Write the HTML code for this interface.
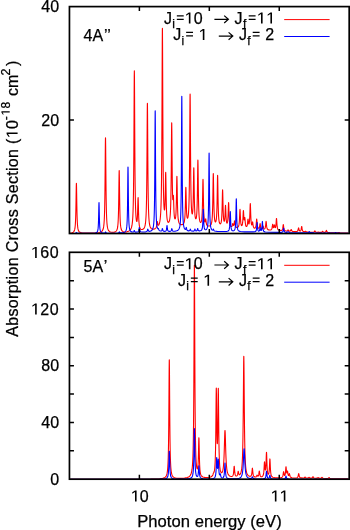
<!DOCTYPE html><html><head><meta charset="utf-8"><style>
html,body{margin:0;padding:0;background:#fff;}
svg{display:block;will-change:transform;}
text{font-family:"Liberation Sans",sans-serif;font-size:16px;fill:#000;stroke:#000;stroke-width:0.25px;font-kerning:none;}
.o{fill:none;stroke:none;}
use{fill:#000;stroke:#000;stroke-width:0.25px;vector-effect:non-scaling-stroke;}
</style></head><body>
<svg width="350" height="530" viewBox="0 0 350 530" xmlns="http://www.w3.org/2000/svg">
<defs><path id="one" d="M540,0L540,1225L190,1000L190,1175L545,1409L745,1409L745,0Z"></path><path id="eq" d="M225,907H1105V1062H225ZM225,460H1105V615H225Z"></path></defs>
<rect width="350" height="530" fill="#fff"></rect>
<g fill="none" stroke-width="1.1" stroke-linejoin="round">
<path d="M70.35,233.09 L72.25,232.70 L73.25,232.18 L73.85,231.55 L74.25,230.83 L74.55,229.99 L74.75,229.18 L74.95,228.07 L75.05,227.35 L75.15,226.48 L75.25,225.43 L75.35,224.13 L75.45,222.53 L75.55,220.51 L75.65,217.98 L75.75,214.77 L75.85,210.72 L75.95,205.72 L76.05,199.77 L76.15,193.32 L76.25,187.44 L76.35,183.80 L76.40,183.30 L76.45,183.80 L76.55,187.43 L76.65,193.31 L76.75,199.77 L76.85,205.71 L76.95,210.71 L77.05,214.76 L77.15,217.96 L77.25,220.50 L77.35,222.51 L77.45,224.11 L77.55,225.41 L77.65,226.46 L77.75,227.33 L77.95,228.65 L78.15,229.58 L78.45,230.55 L78.85,231.36 L79.45,232.04 L80.45,232.59 L82.35,232.97 L87.45,233.15 L95.95,232.95 L99.25,232.58 L100.85,232.08 L101.85,231.40 L102.45,230.65 L102.85,229.87 L103.15,229.01 L103.45,227.78 L103.65,226.64 L103.85,225.11 L103.95,224.15 L104.05,223.00 L104.15,221.63 L104.25,219.98 L104.35,217.98 L104.45,215.51 L104.55,212.46 L104.65,208.64 L104.75,203.81 L104.85,197.72 L104.95,190.03 L105.05,180.51 L105.15,169.21 L105.25,156.94 L105.35,145.76 L105.45,138.84 L105.50,137.90 L105.55,138.84 L105.65,145.76 L105.75,156.93 L105.85,169.20 L105.95,180.49 L106.05,190.00 L106.15,197.69 L106.25,203.78 L106.35,208.60 L106.45,212.42 L106.55,215.47 L106.65,217.93 L106.75,219.93 L106.85,221.57 L106.95,222.94 L107.05,224.08 L107.15,225.04 L107.35,226.56 L107.55,227.69 L107.85,228.90 L108.15,229.74 L108.65,230.66 L109.35,231.39 L110.45,231.95 L112.15,232.24 L114.15,232.13 L115.45,231.69 L116.25,231.06 L116.75,230.31 L117.05,229.61 L117.35,228.57 L117.55,227.57 L117.75,226.19 L117.85,225.29 L117.95,224.21 L118.05,222.90 L118.15,221.29 L118.25,219.29 L118.35,216.79 L118.45,213.63 L118.55,209.64 L118.65,204.61 L118.75,198.38 L118.85,190.99 L118.95,182.96 L119.05,175.65 L119.15,171.12 L119.20,170.50 L119.25,171.12 L119.35,175.64 L119.45,182.95 L119.55,190.98 L119.65,198.37 L119.75,204.59 L119.85,209.62 L119.95,213.61 L120.05,216.76 L120.15,219.26 L120.25,221.25 L120.35,222.86 L120.45,224.17 L120.55,225.24 L120.65,226.13 L120.85,227.51 L121.05,228.50 L121.35,229.53 L121.75,230.41 L122.35,231.15 L123.25,231.69 L124.75,232.00 L126.75,231.84 L128.55,231.28 L129.65,230.60 L130.45,229.73 L130.95,228.88 L131.35,227.90 L131.65,226.87 L131.95,225.48 L132.15,224.24 L132.35,222.65 L132.45,221.68 L132.55,220.56 L132.65,219.26 L132.75,217.73 L132.85,215.94 L132.95,213.81 L133.05,211.26 L133.15,208.18 L133.25,204.41 L133.35,199.76 L133.45,193.97 L133.55,186.70 L133.65,177.52 L133.75,165.91 L133.85,151.38 L133.95,133.70 L134.05,113.48 L134.15,93.06 L134.25,77.02 L134.35,70.80 L134.45,76.95 L134.55,92.90 L134.65,113.25 L134.75,133.39 L134.85,151.00 L134.95,165.44 L135.05,176.96 L135.15,186.06 L135.25,193.23 L135.35,198.92 L135.45,203.46 L135.55,207.12 L135.65,210.08 L135.75,212.50 L135.85,214.48 L135.95,216.11 L136.05,217.45 L136.15,218.55 L136.25,219.44 L136.35,220.15 L136.45,220.70 L136.55,221.10 L136.65,221.35 L136.75,221.46 L136.85,221.41 L136.95,221.18 L137.05,220.76 L137.15,220.10 L137.25,219.15 L137.35,217.84 L137.45,216.08 L137.55,213.78 L137.65,210.84 L137.75,207.30 L137.85,203.42 L137.95,199.88 L138.05,197.74 L138.10,197.50 L138.15,197.88 L138.25,200.28 L138.35,204.09 L138.45,208.24 L138.55,212.07 L138.65,215.30 L138.75,217.92 L138.85,220.01 L138.95,221.66 L139.05,222.99 L139.15,224.05 L139.25,224.92 L139.35,225.62 L139.55,226.70 L139.85,227.76 L140.25,228.60 L140.75,229.17 L141.45,229.52 L142.35,229.52 L143.25,229.12 L143.95,228.40 L144.45,227.49 L144.75,226.68 L145.05,225.54 L145.25,224.52 L145.45,223.20 L145.55,222.38 L145.65,221.44 L145.75,220.33 L145.85,219.04 L145.95,217.50 L146.05,215.66 L146.15,213.45 L146.25,210.75 L146.35,207.45 L146.45,203.34 L146.55,198.21 L146.65,191.73 L146.75,183.54 L146.85,173.22 L146.95,160.43 L147.05,145.26 L147.15,128.78 L147.25,113.76 L147.35,104.47 L147.40,103.20 L147.45,104.46 L147.55,113.75 L147.65,128.75 L147.75,145.22 L147.85,160.38 L147.95,173.16 L148.05,183.48 L148.15,191.66 L148.25,198.12 L148.35,203.25 L148.45,207.34 L148.55,210.64 L148.65,213.32 L148.75,215.53 L148.85,217.36 L148.95,218.88 L149.05,220.17 L149.15,221.27 L149.25,222.20 L149.45,223.71 L149.65,224.85 L149.95,226.10 L150.25,226.99 L150.75,227.96 L151.35,228.65 L152.15,229.11 L153.35,229.21 L154.65,228.91 L155.55,228.36 L156.05,227.74 L156.35,227.10 L156.55,226.42 L156.75,225.40 L156.95,223.91 L157.15,222.24 L157.25,221.71 L157.30,221.60 L157.35,221.61 L157.45,221.96 L157.75,223.87 L157.85,224.37 L158.05,224.99 L158.25,225.25 L158.55,225.21 L158.85,224.83 L159.15,224.19 L159.45,223.25 L159.75,221.94 L159.95,220.79 L160.15,219.35 L160.35,217.49 L160.45,216.35 L160.55,215.05 L160.65,213.55 L160.75,211.79 L160.85,209.74 L160.95,207.30 L161.05,204.40 L161.15,200.91 L161.25,196.67 L161.35,191.47 L161.45,185.03 L161.55,176.98 L161.65,166.84 L161.75,154.02 L161.85,137.87 L161.95,117.87 L162.05,94.16 L162.15,68.41 L162.25,44.93 L162.35,30.37 L162.40,28.35 L162.45,30.28 L162.55,44.66 L162.65,67.95 L162.75,93.52 L162.85,117.04 L162.95,136.83 L163.05,152.77 L163.15,165.38 L163.25,175.29 L163.35,183.09 L163.45,189.26 L163.55,194.17 L163.65,198.09 L163.75,201.23 L163.85,203.73 L163.95,205.72 L164.05,207.27 L164.15,208.44 L164.25,209.27 L164.35,209.78 L164.45,209.97 L164.55,209.82 L164.65,209.32 L164.75,208.39 L164.85,206.97 L164.95,204.94 L165.05,202.16 L165.15,198.47 L165.25,193.76 L165.35,188.04 L165.45,181.77 L165.55,176.06 L165.65,172.59 L165.70,172.20 L165.75,172.81 L165.85,176.72 L165.95,182.89 L166.05,189.62 L166.15,195.82 L166.25,201.04 L166.35,205.27 L166.45,208.64 L166.55,211.30 L166.65,213.42 L166.75,215.12 L166.85,216.48 L166.95,217.59 L167.05,218.51 L167.15,219.26 L167.35,220.39 L167.55,221.18 L167.85,221.92 L168.15,222.29 L168.55,222.35 L168.95,221.96 L169.25,221.32 L169.55,220.27 L169.75,219.26 L169.95,217.88 L170.05,217.00 L170.15,215.97 L170.25,214.73 L170.35,213.26 L170.45,211.48 L170.55,209.31 L170.65,206.65 L170.75,203.35 L170.85,199.22 L170.95,194.01 L171.05,187.44 L171.15,179.15 L171.25,168.90 L171.35,156.74 L171.45,143.53 L171.55,131.46 L171.65,123.90 L171.70,122.80 L171.75,123.70 L171.85,130.84 L171.95,142.49 L172.05,155.24 L172.15,166.88 L172.25,176.55 L172.35,184.16 L172.45,189.93 L172.55,194.16 L172.65,197.09 L172.75,198.91 L172.85,199.73 L172.95,199.63 L173.05,198.74 L173.25,195.91 L173.35,195.29 L173.40,195.50 L173.45,196.11 L173.55,198.38 L173.65,201.53 L173.75,204.84 L173.85,207.85 L173.95,210.38 L174.05,212.43 L174.15,214.05 L174.25,215.34 L174.35,216.35 L174.45,217.14 L174.55,217.75 L174.65,218.21 L174.85,218.78 L175.05,218.94 L175.25,218.73 L175.45,218.09 L175.55,217.57 L175.65,216.89 L175.75,216.02 L175.85,214.89 L175.95,213.46 L176.05,211.63 L176.15,209.29 L176.25,206.29 L176.35,202.48 L176.45,197.73 L176.55,192.07 L176.65,185.91 L176.75,180.30 L176.85,176.85 L176.90,176.40 L176.95,176.91 L177.05,180.48 L177.15,186.21 L177.25,192.49 L177.35,198.27 L177.45,203.15 L177.55,207.10 L177.65,210.23 L177.75,212.71 L177.85,214.68 L177.95,216.27 L178.05,217.54 L178.15,218.59 L178.25,219.45 L178.45,220.76 L178.65,221.70 L178.95,222.68 L179.35,223.49 L179.95,224.18 L180.75,224.59 L181.85,224.67 L182.75,224.36 L183.35,223.84 L183.75,223.22 L184.05,222.50 L184.25,221.81 L184.45,220.86 L184.55,220.24 L184.65,219.50 L184.75,218.61 L184.85,217.50 L184.95,216.13 L185.05,214.42 L185.15,212.26 L185.25,209.55 L185.35,206.15 L185.45,202.03 L185.65,192.56 L185.75,188.80 L185.85,187.30 L185.95,188.64 L186.05,192.22 L186.25,201.35 L186.35,205.29 L186.45,208.50 L186.55,211.02 L186.65,212.98 L186.75,214.48 L186.85,215.63 L186.95,216.50 L187.05,217.14 L187.15,217.61 L187.25,217.93 L187.45,218.22 L187.65,218.10 L187.85,217.63 L188.05,216.77 L188.15,216.18 L188.25,215.46 L188.35,214.59 L188.45,213.55 L188.55,212.29 L188.65,210.78 L188.75,208.96 L188.85,206.74 L188.95,204.02 L189.05,200.67 L189.15,196.50 L189.25,191.26 L189.35,184.65 L189.45,176.28 L189.55,165.72 L189.65,152.63 L189.75,137.10 L189.85,120.23 L189.95,104.85 L190.05,95.31 L190.10,94.00 L190.15,95.28 L190.25,104.74 L190.35,120.05 L190.45,136.85 L190.55,152.31 L190.65,165.31 L190.75,175.79 L190.85,184.08 L190.95,190.60 L191.05,195.74 L191.15,199.80 L191.25,203.04 L191.35,205.63 L191.45,207.71 L191.55,209.38 L191.65,210.71 L191.75,211.76 L191.85,212.58 L191.95,213.18 L192.05,213.60 L192.15,213.85 L192.25,213.91 L192.35,213.79 L192.45,213.48 L192.55,212.95 L192.65,212.15 L192.75,211.05 L192.85,209.57 L192.95,207.61 L193.05,205.03 L193.15,201.69 L193.25,197.39 L193.35,192.01 L193.45,185.57 L193.55,178.54 L193.65,172.14 L193.75,168.20 L193.80,167.70 L193.85,168.29 L193.95,172.40 L194.05,178.98 L194.15,186.18 L194.25,192.81 L194.35,198.38 L194.45,202.88 L194.55,206.43 L194.65,209.23 L194.75,211.44 L194.85,213.18 L194.95,214.57 L195.05,215.67 L195.15,216.55 L195.25,217.24 L195.35,217.78 L195.55,218.51 L195.75,218.83 L195.95,218.80 L196.15,218.41 L196.25,218.07 L196.35,217.60 L196.45,216.99 L196.55,216.21 L196.65,215.22 L196.75,213.98 L196.85,212.41 L196.95,210.43 L197.05,207.91 L197.15,204.71 L197.25,200.62 L197.35,195.44 L197.45,188.99 L197.55,181.33 L197.65,173.00 L197.75,165.41 L197.85,160.72 L197.90,160.10 L197.95,160.76 L198.05,165.53 L198.15,173.21 L198.25,181.63 L198.35,189.38 L198.45,195.91 L198.55,201.18 L198.65,205.37 L198.75,208.67 L198.85,211.29 L198.95,213.38 L199.05,215.07 L199.15,216.43 L199.25,217.55 L199.35,218.47 L199.45,219.23 L199.65,220.40 L199.85,221.21 L200.15,221.98 L200.45,222.36 L200.75,222.40 L201.05,222.11 L201.25,221.67 L201.45,220.97 L201.65,219.89 L201.75,219.14 L201.85,218.22 L201.95,217.07 L202.05,215.63 L202.15,213.80 L202.25,211.48 L202.35,208.53 L202.45,204.80 L202.55,200.17 L202.65,194.66 L202.75,188.68 L202.85,183.22 L202.95,179.85 L203.00,179.40 L203.05,179.87 L203.15,183.28 L203.25,188.77 L203.35,194.79 L203.45,200.33 L203.55,204.99 L203.65,208.75 L203.75,211.73 L203.85,214.07 L203.95,215.92 L204.05,217.38 L204.15,218.54 L204.25,219.46 L204.35,220.20 L204.45,220.77 L204.65,221.54 L204.85,221.85 L204.95,221.84 L205.05,221.70 L205.15,221.41 L205.25,220.98 L205.55,219.14 L205.65,218.80 L205.70,218.80 L205.75,218.92 L205.85,219.49 L206.15,222.10 L206.25,222.81 L206.45,223.87 L206.65,224.56 L206.95,225.19 L207.45,225.73 L208.25,226.07 L209.35,226.05 L210.15,225.69 L210.75,225.05 L211.15,224.29 L211.45,223.38 L211.65,222.52 L211.85,221.32 L211.95,220.55 L212.05,219.62 L212.15,218.49 L212.25,217.10 L212.35,215.38 L212.45,213.23 L212.55,210.52 L212.65,207.09 L212.75,202.78 L212.85,197.43 L212.95,191.10 L213.05,184.21 L213.15,177.94 L213.25,174.04 L213.30,173.50 L213.35,174.01 L213.45,177.85 L213.55,184.06 L213.65,190.89 L213.75,197.16 L213.85,202.44 L213.95,206.69 L214.05,210.04 L214.15,212.68 L214.25,214.76 L214.35,216.39 L214.45,217.70 L214.55,218.73 L214.65,219.56 L214.75,220.23 L214.95,221.17 L215.15,221.73 L215.35,222.00 L215.55,222.01 L215.75,221.77 L215.95,221.24 L216.15,220.33 L216.25,219.69 L216.35,218.89 L216.45,217.89 L216.55,216.64 L216.65,215.06 L216.75,213.06 L216.85,210.52 L216.95,207.28 L217.05,203.19 L217.15,198.10 L217.25,192.06 L217.35,185.49 L217.45,179.50 L217.55,175.80 L217.60,175.30 L217.65,175.82 L217.75,179.55 L217.85,185.57 L217.95,192.18 L218.05,198.26 L218.15,203.38 L218.25,207.51 L218.35,210.79 L218.45,213.38 L218.55,215.42 L218.65,217.05 L218.75,218.36 L218.85,219.42 L218.95,220.28 L219.05,220.99 L219.25,222.05 L219.45,222.79 L219.75,223.47 L220.05,223.79 L220.35,223.85 L220.65,223.62 L220.95,223.02 L221.15,222.32 L221.35,221.25 L221.45,220.52 L221.55,219.60 L221.65,218.46 L221.75,217.01 L221.85,215.17 L221.95,212.84 L222.05,209.89 L222.15,206.23 L222.25,201.88 L222.35,197.16 L222.45,192.85 L222.55,190.17 L222.60,189.80 L222.65,190.15 L222.75,192.80 L222.85,197.07 L222.95,201.76 L223.05,206.07 L223.15,209.68 L223.25,212.58 L223.35,214.85 L223.45,216.62 L223.55,217.99 L223.65,219.04 L223.75,219.84 L223.85,220.44 L223.95,220.87 L224.05,221.16 L224.15,221.30 L224.25,221.32 L224.35,221.20 L224.45,220.94 L224.55,220.51 L224.65,219.88 L224.75,219.00 L224.85,217.82 L224.95,216.28 L225.05,214.33 L225.15,211.97 L225.25,209.39 L225.35,207.03 L225.45,205.58 L225.50,205.40 L225.55,205.62 L225.65,207.16 L225.75,209.60 L225.85,212.27 L225.95,214.72 L226.05,216.78 L226.15,218.42 L226.25,219.71 L226.35,220.71 L226.45,221.47 L226.55,222.05 L226.65,222.49 L226.85,223.00 L227.05,223.14 L227.25,222.93 L227.45,222.32 L227.55,221.81 L227.65,221.14 L227.75,220.26 L227.85,219.10 L227.95,217.61 L228.05,215.69 L228.15,213.30 L228.25,210.43 L228.35,207.31 L228.45,204.47 L228.55,202.72 L228.60,202.50 L228.65,202.77 L228.75,204.60 L228.85,207.53 L228.95,210.75 L229.05,213.71 L229.15,216.20 L229.25,218.22 L229.35,219.83 L229.45,221.10 L229.55,222.11 L229.65,222.92 L229.75,223.57 L229.95,224.54 L230.25,225.47 L230.65,226.16 L231.15,226.55 L231.65,226.54 L231.95,226.27 L232.15,225.88 L232.35,225.22 L232.65,223.84 L232.75,223.55 L232.85,223.52 L232.95,223.76 L233.25,224.92 L233.45,225.37 L233.65,225.43 L233.85,225.09 L233.95,224.76 L234.05,224.29 L234.15,223.67 L234.45,221.31 L234.55,220.85 L234.60,220.80 L234.65,220.88 L234.75,221.42 L235.05,224.00 L235.15,224.71 L235.35,225.74 L235.55,226.38 L235.85,226.94 L236.35,227.35 L237.15,227.47 L237.85,227.19 L238.35,226.62 L238.65,225.95 L238.85,225.23 L239.05,224.15 L239.15,223.39 L239.25,222.44 L239.35,221.24 L239.45,219.72 L239.55,217.84 L239.65,215.61 L239.75,213.18 L239.85,210.97 L239.95,209.59 L240.00,209.40 L240.05,209.58 L240.15,210.92 L240.25,213.10 L240.35,215.48 L240.45,217.68 L240.55,219.52 L240.65,220.99 L240.75,222.15 L240.85,223.06 L240.95,223.76 L241.05,224.30 L241.25,225.04 L241.45,225.44 L241.75,225.61 L242.05,225.32 L242.25,224.81 L242.45,223.92 L242.55,223.26 L242.65,222.43 L242.75,221.36 L242.85,219.99 L242.95,218.29 L243.05,216.27 L243.15,214.06 L243.25,212.02 L243.35,210.72 L243.40,210.50 L243.45,210.61 L243.55,211.69 L243.65,213.49 L243.75,215.43 L243.85,217.15 L243.95,218.47 L244.05,219.38 L244.15,219.89 L244.25,220.02 L244.35,219.79 L244.45,219.26 L244.65,217.83 L244.75,217.47 L244.80,217.50 L244.85,217.70 L244.95,218.55 L245.25,222.23 L245.35,223.22 L245.45,224.02 L245.55,224.65 L245.75,225.54 L245.95,226.08 L246.25,226.49 L246.55,226.56 L246.85,226.30 L247.05,225.88 L247.25,225.14 L247.35,224.60 L247.45,223.92 L247.55,223.06 L247.85,219.88 L247.95,219.22 L248.00,219.10 L248.05,219.15 L248.15,219.68 L248.45,222.39 L248.55,223.07 L248.65,223.55 L248.75,223.85 L248.85,223.99 L248.95,223.99 L249.05,223.84 L249.15,223.54 L249.25,223.08 L249.35,222.44 L249.45,221.57 L249.55,220.41 L249.65,218.91 L249.75,216.98 L249.85,214.55 L249.95,211.66 L250.05,208.50 L250.15,205.62 L250.25,203.84 L250.30,203.60 L250.35,203.85 L250.45,205.67 L250.55,208.59 L250.65,211.79 L250.75,214.72 L250.85,217.19 L250.95,219.16 L251.05,220.71 L251.15,221.92 L251.25,222.84 L251.35,223.55 L251.45,224.08 L251.55,224.46 L251.65,224.71 L251.75,224.83 L251.85,224.84 L251.95,224.71 L252.05,224.44 L252.15,224.03 L252.45,222.24 L252.55,221.91 L252.65,222.01 L252.75,222.53 L253.05,224.96 L253.15,225.62 L253.35,226.58 L253.55,227.20 L253.85,227.74 L254.35,228.13 L254.95,228.12 L255.35,227.79 L255.65,227.21 L255.85,226.52 L255.95,226.03 L256.05,225.39 L256.15,224.59 L256.25,223.59 L256.55,219.92 L256.65,219.20 L256.70,219.10 L256.75,219.20 L256.85,219.95 L257.15,223.65 L257.25,224.67 L257.35,225.49 L257.45,226.13 L257.65,227.04 L257.85,227.60 L258.15,228.08 L258.55,228.31 L258.95,228.17 L259.25,227.72 L259.45,227.11 L259.65,226.11 L259.95,224.06 L260.05,223.65 L260.15,223.66 L260.25,224.09 L260.55,226.22 L260.75,227.27 L260.95,227.93 L261.25,228.46 L261.65,228.70 L262.05,228.56 L262.35,228.09 L262.55,227.48 L262.85,226.19 L262.95,225.93 L263.05,225.94 L263.15,226.21 L263.45,227.54 L263.65,228.18 L263.95,228.70 L264.35,228.89 L264.75,228.71 L265.05,228.25 L265.25,227.68 L265.45,226.73 L265.55,226.05 L265.65,225.20 L265.95,222.09 L266.05,221.48 L266.10,221.40 L266.15,221.49 L266.25,222.13 L266.55,225.33 L266.65,226.21 L266.75,226.91 L266.95,227.93 L267.15,228.57 L267.45,229.15 L267.95,229.63 L268.95,230.00 L270.35,230.04 L271.15,229.76 L271.55,229.37 L271.85,228.77 L272.05,228.07 L272.25,226.97 L272.55,224.74 L272.65,224.28 L272.75,224.23 L272.85,224.61 L273.15,226.51 L273.25,226.99 L273.35,227.32 L273.55,227.62 L273.75,227.45 L273.85,227.19 L274.05,226.30 L274.25,225.18 L274.35,224.85 L274.45,224.85 L274.55,225.18 L274.85,226.79 L275.05,227.46 L275.25,227.68 L275.45,227.51 L275.55,227.27 L275.65,226.91 L275.75,226.40 L275.85,225.71 L275.95,224.81 L276.05,223.68 L276.15,222.31 L276.25,220.81 L276.35,219.44 L276.45,218.60 L276.50,218.50 L276.55,218.63 L276.65,219.54 L276.75,220.97 L276.85,222.54 L276.95,223.98 L277.05,225.20 L277.15,226.19 L277.25,226.97 L277.35,227.59 L277.55,228.48 L277.85,229.28 L278.25,229.83 L278.75,230.11 L279.25,230.04 L279.65,229.92 L280.35,230.47 L281.15,230.58 L281.85,230.32 L282.25,229.85 L282.45,229.40 L282.65,228.67 L282.75,228.15 L282.85,227.50 L283.15,225.13 L283.25,224.66 L283.30,224.60 L283.35,224.67 L283.45,225.15 L283.75,227.57 L283.85,228.23 L284.05,229.19 L284.25,229.80 L284.55,230.33 L285.15,230.82 L286.25,231.08 L287.15,230.98 L287.55,230.67 L288.05,229.91 L288.25,230.03 L288.75,230.84 L289.25,231.15 L290.05,231.14 L290.45,230.88 L290.75,230.40 L291.05,229.66 L291.20,229.50 L291.35,229.68 L291.75,230.67 L292.15,231.18 L292.95,231.51 L295.55,231.67 L296.95,231.49 L297.55,231.09 L297.85,230.60 L298.05,230.02 L298.25,229.13 L298.45,228.14 L298.55,227.84 L298.65,227.84 L298.75,228.12 L299.05,229.57 L299.25,230.28 L299.55,230.85 L299.95,231.12 L300.45,231.00 L300.75,230.63 L300.95,230.16 L301.15,229.39 L301.35,228.20 L301.55,226.85 L301.65,226.45 L301.75,226.46 L301.85,226.87 L302.15,228.92 L302.35,229.94 L302.55,230.59 L302.85,231.14 L303.35,231.57 L304.25,231.78 L304.85,231.62 L305.40,231.20 L306.25,231.90 L307.75,232.15 L313.05,232.26 L313.95,232.06 L314.35,231.71 L314.85,230.91 L315.05,231.03 L315.55,231.86 L316.15,232.22 L317.45,232.33 L318.35,232.11 L319.35,232.42 L321.25,232.38 L321.85,232.13 L322.25,231.64 L322.55,231.21 L322.75,231.31 L323.25,232.04 L323.85,232.34 L324.95,232.34 L325.55,232.03 L325.85,231.60 L326.25,230.58 L326.40,230.40 L326.55,230.59 L326.95,231.64 L327.25,232.08 L327.85,232.43 L329.95,232.66 L337.95,232.75 L338.95,232.50 L340.05,232.80 L348.25,232.97" stroke="#ff0000"></path>
<path d="M70.35,233.47 L75.25,233.35 L75.85,233.12 L76.40,232.50 L77.05,233.18 L78.05,233.38 L92.25,233.25 L95.35,232.97 L96.45,232.59 L97.05,232.08 L97.45,231.40 L97.65,230.83 L97.85,229.99 L97.95,229.41 L98.05,228.68 L98.15,227.73 L98.25,226.49 L98.35,224.85 L98.45,222.65 L98.55,219.71 L98.65,215.86 L98.75,211.16 L98.85,206.30 L98.95,202.97 L99.00,202.50 L99.05,202.97 L99.15,206.30 L99.25,211.15 L99.35,215.86 L99.45,219.71 L99.55,222.65 L99.65,224.84 L99.75,226.48 L99.85,227.72 L99.95,228.66 L100.05,229.40 L100.25,230.44 L100.45,231.12 L100.75,231.76 L101.25,232.34 L102.15,232.79 L103.85,233.01 L104.75,232.90 L105.15,232.59 L105.55,231.92 L105.65,231.92 L106.15,232.73 L106.75,233.04 L109.95,233.18 L117.75,233.02 L118.55,232.82 L118.95,232.41 L119.25,231.92 L119.35,231.92 L119.85,232.63 L120.45,232.87 L122.65,232.79 L124.35,232.37 L125.15,231.86 L125.65,231.25 L126.05,230.42 L126.35,229.40 L126.55,228.39 L126.65,227.72 L126.75,226.91 L126.85,225.91 L126.95,224.67 L127.05,223.09 L127.15,221.05 L127.25,218.40 L127.35,214.88 L127.45,210.18 L127.55,203.87 L127.65,195.62 L127.75,185.54 L127.85,175.14 L127.95,168.02 L128.00,167.00 L128.05,168.01 L128.15,175.12 L128.25,185.51 L128.35,195.58 L128.45,203.82 L128.55,210.10 L128.65,214.80 L128.75,218.30 L128.85,220.94 L128.95,222.96 L129.05,224.53 L129.15,225.76 L129.25,226.75 L129.35,227.55 L129.55,228.74 L129.75,229.57 L130.05,230.40 L130.45,231.08 L131.05,231.63 L132.05,232.01 L133.15,232.04 L133.65,231.77 L133.95,231.27 L134.25,230.53 L134.35,230.53 L134.75,231.49 L135.05,231.88 L135.75,232.12 L137.35,232.03 L138.15,231.69 L138.45,231.34 L138.65,230.90 L138.85,230.12 L138.95,229.53 L139.15,228.08 L139.25,227.57 L139.30,227.50 L139.35,227.57 L139.45,228.06 L139.65,229.49 L139.75,230.07 L139.95,230.83 L140.25,231.40 L140.75,231.76 L142.15,231.97 L145.65,231.83 L146.65,231.57 L147.05,231.24 L147.35,230.63 L147.65,229.44 L147.75,229.15 L147.85,229.14 L147.95,229.41 L148.25,230.53 L148.55,231.07 L149.05,231.34 L150.15,231.25 L151.35,230.73 L152.05,230.10 L152.55,229.32 L152.95,228.30 L153.25,227.12 L153.45,225.99 L153.55,225.28 L153.65,224.44 L153.75,223.43 L153.85,222.22 L153.95,220.74 L154.05,218.92 L154.15,216.64 L154.25,213.74 L154.35,210.02 L154.45,205.15 L154.55,198.70 L154.65,190.06 L154.75,178.50 L154.85,163.35 L154.95,144.84 L155.05,125.74 L155.15,112.67 L155.20,110.80 L155.25,112.66 L155.35,125.73 L155.45,144.83 L155.55,163.33 L155.65,178.47 L155.75,190.03 L155.85,198.66 L155.95,205.10 L156.05,209.96 L156.15,213.68 L156.25,216.56 L156.35,218.83 L156.45,220.65 L156.55,222.11 L156.65,223.31 L156.75,224.30 L156.85,225.13 L157.05,226.41 L157.25,227.33 L157.55,228.24 L157.85,228.69 L158.05,228.71 L158.35,228.47 L158.45,228.58 L158.85,229.77 L159.15,230.31 L159.75,230.79 L160.75,231.05 L161.45,230.90 L161.75,230.58 L161.95,230.11 L162.15,229.31 L162.25,228.85 L162.35,228.54 L162.45,228.55 L162.55,228.87 L162.85,230.17 L163.05,230.67 L163.45,231.12 L164.25,231.34 L165.35,231.24 L165.85,230.94 L166.15,230.51 L166.35,229.95 L166.45,229.52 L166.55,228.95 L166.65,228.20 L166.85,226.34 L166.95,225.69 L167.00,225.60 L167.05,225.69 L167.15,226.34 L167.35,228.20 L167.45,228.95 L167.55,229.52 L167.75,230.27 L168.05,230.83 L168.55,231.20 L169.65,231.37 L170.65,231.18 L171.05,230.84 L171.25,230.47 L171.45,229.81 L171.65,228.87 L171.75,228.55 L171.85,228.54 L171.95,228.86 L172.15,229.78 L172.35,230.44 L172.65,230.91 L173.25,231.21 L174.95,231.20 L176.85,230.80 L177.95,230.23 L178.65,229.52 L179.15,228.65 L179.45,227.85 L179.75,226.69 L179.95,225.61 L180.15,224.14 L180.25,223.20 L180.35,222.08 L180.45,220.73 L180.55,219.08 L180.65,217.04 L180.75,214.49 L180.85,211.26 L180.95,207.11 L181.05,201.67 L181.15,194.47 L181.25,184.82 L181.35,171.90 L181.45,154.99 L181.55,134.32 L181.65,112.99 L181.75,98.38 L181.80,96.30 L181.85,98.38 L181.95,112.98 L182.05,134.31 L182.15,154.97 L182.25,171.88 L182.35,184.79 L182.45,194.44 L182.55,201.63 L182.65,207.06 L182.75,211.22 L182.85,214.44 L182.95,216.98 L183.05,219.01 L183.15,220.66 L183.25,222.01 L183.35,223.12 L183.45,224.05 L183.65,225.51 L183.85,226.57 L184.15,227.70 L184.45,228.46 L184.85,229.09 L185.25,229.41 L185.55,229.38 L185.75,229.13 L185.95,228.57 L186.15,227.71 L186.25,227.43 L186.35,227.47 L186.45,227.85 L186.65,228.89 L186.85,229.64 L187.15,230.23 L187.65,230.64 L188.65,230.89 L189.35,230.79 L189.75,230.42 L189.95,229.98 L190.15,229.35 L190.30,229.10 L190.45,229.36 L190.75,230.29 L191.05,230.75 L191.65,231.06 L193.25,231.12 L194.05,230.86 L194.35,230.51 L194.55,230.03 L194.75,229.37 L194.90,229.10 L195.05,229.35 L195.35,230.26 L195.65,230.70 L196.15,230.90 L196.75,230.75 L197.05,230.43 L197.25,229.99 L197.55,228.83 L197.65,228.54 L197.75,228.54 L197.85,228.82 L198.15,229.97 L198.45,230.53 L198.95,230.83 L200.05,230.84 L201.05,230.51 L201.55,230.09 L201.85,229.62 L202.15,228.79 L202.35,227.85 L202.45,227.17 L202.55,226.29 L202.65,225.12 L202.75,223.55 L202.85,221.46 L202.95,218.72 L203.15,211.91 L203.25,209.54 L203.30,209.20 L203.35,209.53 L203.45,211.88 L203.65,218.64 L203.75,221.36 L203.85,223.43 L203.95,224.97 L204.05,226.12 L204.15,226.98 L204.25,227.63 L204.45,228.52 L204.75,229.26 L205.15,229.70 L205.75,229.81 L206.35,229.49 L206.75,228.99 L207.05,228.37 L207.35,227.39 L207.55,226.41 L207.65,225.77 L207.75,225.00 L207.85,224.05 L207.95,222.88 L208.05,221.41 L208.15,219.55 L208.25,217.15 L208.35,214.01 L208.45,209.84 L208.55,204.26 L208.65,196.78 L208.75,186.99 L208.85,175.01 L208.95,162.66 L209.05,154.20 L209.10,153.00 L209.15,154.21 L209.25,162.67 L209.35,175.03 L209.45,187.01 L209.55,196.82 L209.65,204.30 L209.75,209.89 L209.85,214.07 L209.95,217.22 L210.05,219.63 L210.15,221.50 L210.25,222.98 L210.35,224.16 L210.45,225.12 L210.55,225.90 L210.75,227.09 L210.95,227.94 L211.25,228.82 L211.65,229.54 L212.15,230.03 L212.65,230.15 L212.95,229.92 L213.35,229.11 L213.45,229.14 L213.85,230.22 L214.15,230.67 L214.85,231.06 L217.15,231.38 L224.15,231.53 L227.05,231.34 L228.15,230.97 L228.65,230.53 L228.95,230.02 L229.15,229.47 L229.35,228.61 L229.45,228.00 L229.55,227.19 L229.65,226.13 L229.75,224.70 L229.85,222.79 L229.95,220.28 L230.15,214.07 L230.25,211.91 L230.30,211.60 L230.35,211.91 L230.45,214.06 L230.65,220.26 L230.75,222.76 L230.85,224.66 L230.95,226.08 L231.05,227.14 L231.15,227.94 L231.25,228.54 L231.45,229.38 L231.75,230.10 L232.15,230.58 L232.85,230.86 L233.65,230.77 L234.25,230.38 L234.65,229.80 L234.95,228.99 L235.15,228.11 L235.25,227.49 L235.35,226.71 L235.45,225.70 L235.55,224.38 L235.65,222.63 L235.75,220.28 L235.85,217.13 L235.95,213.01 L236.05,207.97 L236.15,202.77 L236.25,199.21 L236.30,198.70 L236.35,199.21 L236.45,202.78 L236.55,207.99 L236.65,213.04 L236.75,217.17 L236.85,220.33 L236.95,222.68 L237.05,224.44 L237.15,225.77 L237.25,226.79 L237.35,227.58 L237.45,228.21 L237.65,229.11 L237.95,229.95 L238.35,230.58 L239.05,231.13 L240.45,231.53 L244.55,231.83 L253.25,231.92 L255.05,231.68 L255.65,231.36 L256.05,230.82 L256.25,230.30 L256.35,229.92 L256.45,229.41 L256.55,228.73 L256.65,227.82 L256.75,226.63 L256.95,223.68 L257.05,222.65 L257.10,222.50 L257.15,222.64 L257.25,223.66 L257.45,226.59 L257.55,227.77 L257.65,228.67 L257.75,229.33 L257.85,229.83 L258.05,230.47 L258.35,230.95 L258.75,231.16 L259.15,231.02 L259.45,230.55 L259.65,229.87 L259.75,229.34 L259.95,228.03 L260.05,227.57 L260.10,227.50 L260.15,227.56 L260.25,227.99 L260.45,229.24 L260.55,229.73 L260.75,230.33 L260.95,230.57 L261.25,230.50 L261.45,230.18 L261.65,229.51 L261.75,228.98 L261.85,228.25 L261.95,227.26 L262.05,225.95 L262.25,222.69 L262.35,221.56 L262.40,221.40 L262.45,221.57 L262.55,222.73 L262.75,226.05 L262.85,227.39 L262.95,228.42 L263.05,229.18 L263.15,229.76 L263.35,230.52 L263.65,231.16 L264.15,231.64 L265.25,232.00 L269.35,232.27 L280.85,232.40 L282.15,232.19 L282.65,231.85 L282.95,231.32 L283.15,230.60 L283.35,229.41 L283.45,228.73 L283.55,228.27 L283.60,228.20 L283.65,228.27 L283.75,228.73 L283.95,230.07 L284.05,230.61 L284.25,231.33 L284.55,231.87 L285.15,232.25 L286.65,232.40 L287.45,232.23 L287.85,231.78 L288.10,231.50 L288.35,231.80 L288.75,232.26 L289.65,232.50 L306.75,232.72 L308.25,232.58 L308.65,232.33 L309.15,231.52 L309.25,231.52 L309.75,232.34 L310.35,232.66 L313.95,232.82 L334.45,232.97 L335.15,232.74 L335.55,232.51 L336.25,232.94 L339.45,233.09 L348.25,233.19" stroke="#0000ff"></path>
<path d="M70.35,479.19 L150.65,479.06 L159.65,478.80 L162.75,478.38 L164.35,477.84 L165.35,477.15 L165.95,476.42 L166.45,475.45 L166.75,474.59 L167.05,473.39 L167.25,472.30 L167.45,470.87 L167.55,469.99 L167.65,468.96 L167.75,467.75 L167.85,466.32 L167.95,464.60 L168.05,462.54 L168.15,460.03 L168.25,456.95 L168.35,453.12 L168.45,448.34 L168.55,442.30 L168.65,434.67 L168.75,425.05 L168.85,413.13 L168.95,398.99 L169.05,383.63 L169.15,369.64 L169.25,360.98 L169.30,359.80 L169.35,360.98 L169.45,369.63 L169.55,383.62 L169.65,398.98 L169.75,413.11 L169.85,425.02 L169.95,434.64 L170.05,442.27 L170.15,448.30 L170.25,453.08 L170.35,456.90 L170.45,459.98 L170.55,462.49 L170.65,464.55 L170.75,466.25 L170.85,467.68 L170.95,468.89 L171.05,469.92 L171.15,470.80 L171.35,472.21 L171.55,473.29 L171.85,474.48 L172.25,475.55 L172.75,476.42 L173.45,477.14 L174.55,477.75 L176.45,478.18 L180.15,478.34 L184.55,478.09 L187.15,477.60 L188.65,476.97 L189.65,476.21 L190.35,475.32 L190.85,474.35 L191.25,473.23 L191.55,472.09 L191.85,470.54 L192.05,469.19 L192.25,467.47 L192.35,466.43 L192.45,465.24 L192.55,463.87 L192.65,462.28 L192.75,460.43 L192.85,458.26 L192.95,455.69 L193.05,452.62 L193.15,448.92 L193.25,444.42 L193.35,438.90 L193.45,432.05 L193.55,423.48 L193.65,412.68 L193.75,399.01 L193.85,381.79 L193.95,360.46 L194.05,335.16 L194.15,307.67 L194.25,282.63 L194.35,267.12 L194.40,265.00 L194.45,267.10 L194.55,282.56 L194.65,307.56 L194.75,335.00 L194.85,360.26 L194.95,381.53 L195.05,398.71 L195.15,412.32 L195.25,423.07 L195.35,431.59 L195.45,438.38 L195.55,443.84 L195.65,448.28 L195.75,451.91 L195.85,454.90 L195.95,457.40 L196.05,459.48 L196.15,461.24 L196.25,462.72 L196.35,463.98 L196.45,465.04 L196.55,465.95 L196.65,466.71 L196.85,467.86 L197.05,468.60 L197.25,468.94 L197.45,468.88 L197.55,468.67 L197.65,468.31 L197.75,467.79 L197.85,467.06 L197.95,466.07 L198.05,464.76 L198.15,463.03 L198.25,460.77 L198.35,457.85 L198.45,454.20 L198.55,449.81 L198.65,445.03 L198.75,440.68 L198.85,438.02 L198.90,437.70 L198.95,438.13 L199.05,441.01 L199.15,445.59 L199.25,450.60 L199.35,455.22 L199.45,459.11 L199.55,462.27 L199.65,464.79 L199.75,466.79 L199.85,468.38 L199.95,469.67 L200.05,470.71 L200.15,471.57 L200.35,472.87 L200.55,473.81 L200.85,474.78 L201.25,475.61 L201.85,476.34 L202.85,476.97 L204.55,477.40 L207.25,477.51 L209.75,477.21 L211.25,476.69 L212.15,476.03 L212.65,475.35 L212.95,474.66 L213.45,472.92 L213.65,472.57 L213.95,472.26 L214.15,471.76 L214.35,470.93 L214.55,469.73 L214.65,468.95 L214.75,468.03 L214.85,466.94 L214.95,465.64 L215.05,464.07 L215.15,462.18 L215.25,459.86 L215.35,456.99 L215.45,453.43 L215.55,448.96 L215.65,443.33 L215.75,436.26 L215.85,427.54 L215.95,417.20 L216.05,405.96 L216.15,395.64 L216.25,389.07 L216.30,388.00 L216.35,388.59 L216.45,394.21 L216.55,403.53 L216.65,413.71 L216.75,422.91 L216.85,430.36 L216.95,435.98 L217.05,439.94 L217.15,442.45 L217.25,443.66 L217.35,443.67 L217.45,442.47 L217.55,439.98 L217.65,436.04 L217.75,430.45 L217.85,423.04 L217.95,413.90 L218.05,403.77 L218.15,394.50 L218.25,388.90 L218.30,388.30 L218.35,389.35 L218.45,395.85 L218.55,406.06 L218.65,417.19 L218.75,427.42 L218.85,436.05 L218.95,443.04 L219.05,448.59 L219.15,452.99 L219.25,456.50 L219.35,459.30 L219.45,461.56 L219.55,463.41 L219.65,464.92 L219.75,466.17 L219.85,467.21 L219.95,468.08 L220.15,469.43 L220.35,470.43 L220.65,471.52 L220.95,472.21 L221.35,472.65 L221.75,472.65 L222.15,472.25 L222.45,471.64 L222.75,470.68 L222.95,469.77 L223.15,468.58 L223.35,467.01 L223.45,466.05 L223.55,464.94 L223.65,463.66 L223.75,462.18 L223.85,460.48 L223.95,458.52 L224.05,456.27 L224.15,453.71 L224.25,450.82 L224.35,447.63 L224.65,437.22 L224.75,434.18 L224.85,431.89 L224.95,430.65 L225.00,430.50 L225.05,430.67 L225.15,431.94 L225.25,434.26 L225.35,437.34 L225.65,447.85 L225.75,451.08 L225.85,454.00 L225.95,456.61 L226.05,458.89 L226.15,460.90 L226.25,462.64 L226.35,464.16 L226.45,465.48 L226.55,466.64 L226.65,467.65 L226.85,469.32 L227.05,470.62 L227.35,472.08 L227.65,473.14 L228.05,474.14 L228.55,474.98 L229.25,475.70 L230.25,476.24 L231.45,476.44 L232.25,476.25 L232.75,475.82 L233.05,475.27 L233.25,474.66 L233.45,473.68 L233.55,472.99 L233.65,472.12 L233.75,471.04 L234.05,467.10 L234.15,466.31 L234.20,466.20 L234.25,466.30 L234.35,467.09 L234.45,468.35 L234.65,471.01 L234.75,472.08 L234.85,472.94 L234.95,473.62 L235.15,474.58 L235.35,475.17 L235.65,475.68 L236.15,476.01 L236.75,475.93 L237.15,475.55 L237.45,474.91 L237.65,474.16 L237.85,473.03 L238.05,471.76 L238.15,471.37 L238.25,471.33 L238.35,471.65 L238.65,473.30 L238.85,474.08 L239.05,474.51 L239.35,474.75 L239.75,474.66 L240.25,474.10 L240.65,473.32 L240.95,472.47 L241.25,471.29 L241.45,470.25 L241.65,468.92 L241.85,467.21 L241.95,466.16 L242.05,464.95 L242.15,463.55 L242.25,461.91 L242.35,459.99 L242.45,457.72 L242.55,455.01 L242.65,451.78 L242.75,447.87 L242.85,443.14 L242.95,437.39 L243.05,430.39 L243.15,421.92 L243.25,411.81 L243.35,400.09 L243.55,374.35 L243.65,363.54 L243.75,357.24 L243.80,356.40 L243.85,357.24 L243.95,363.54 L244.05,374.36 L244.25,400.10 L244.35,411.83 L244.45,421.95 L244.55,430.42 L244.65,437.42 L244.75,443.18 L244.85,447.91 L244.95,451.82 L245.05,455.06 L245.15,457.77 L245.25,460.05 L245.35,461.98 L245.45,463.62 L245.55,465.03 L245.65,466.24 L245.75,467.29 L245.95,469.02 L246.15,470.36 L246.45,471.87 L246.75,472.96 L247.15,474.00 L247.65,474.88 L248.35,475.64 L249.35,476.21 L250.25,476.34 L250.85,476.11 L251.25,475.61 L251.45,475.13 L251.65,474.34 L251.75,473.78 L251.85,473.07 L251.95,472.18 L252.25,468.93 L252.35,468.28 L252.40,468.20 L252.45,468.29 L252.55,468.96 L252.85,472.28 L252.95,473.19 L253.05,473.92 L253.15,474.51 L253.35,475.34 L253.65,476.06 L254.05,476.56 L254.75,476.91 L255.75,476.94 L256.25,476.68 L256.55,476.28 L256.95,475.30 L257.10,475.10 L257.25,475.23 L257.65,476.00 L257.95,476.17 L258.25,475.97 L258.45,475.59 L258.65,474.93 L258.75,474.45 L258.95,473.12 L259.15,471.61 L259.25,471.16 L259.30,471.10 L259.35,471.16 L259.45,471.61 L259.75,473.87 L259.85,474.49 L260.05,475.38 L260.25,475.92 L260.55,476.38 L261.05,476.69 L261.85,476.68 L262.55,476.28 L262.95,475.75 L263.25,475.06 L263.45,474.32 L263.55,473.82 L263.65,473.21 L263.75,472.43 L263.85,471.46 L263.95,470.25 L264.05,468.75 L264.15,466.97 L264.25,465.04 L264.35,463.26 L264.45,462.11 L264.50,461.90 L264.55,461.97 L264.65,462.85 L264.75,464.35 L264.85,465.97 L264.95,467.42 L265.05,468.55 L265.15,469.35 L265.25,469.84 L265.35,470.04 L265.45,469.98 L265.55,469.65 L265.65,469.04 L265.75,468.10 L265.85,466.78 L265.95,465.01 L266.05,462.74 L266.15,459.99 L266.25,456.97 L266.35,454.20 L266.45,452.51 L266.50,452.30 L266.55,452.57 L266.65,454.38 L266.75,457.27 L266.85,460.43 L266.95,463.33 L267.05,465.77 L267.15,467.73 L267.25,469.28 L267.35,470.49 L267.45,471.44 L267.55,472.19 L267.65,472.77 L267.85,473.58 L268.05,474.04 L268.25,474.23 L268.45,474.19 L268.65,473.89 L268.85,473.24 L268.95,472.74 L269.05,472.09 L269.15,471.23 L269.25,470.12 L269.35,468.70 L269.45,466.92 L269.55,464.79 L269.65,462.47 L269.75,460.36 L269.85,459.06 L269.90,458.90 L269.95,459.10 L270.05,460.47 L270.15,462.65 L270.25,465.04 L270.35,467.25 L270.45,469.11 L270.55,470.61 L270.65,471.81 L270.75,472.75 L270.85,473.51 L271.05,474.61 L271.25,475.34 L271.55,476.05 L272.05,476.71 L272.85,477.20 L274.55,477.58 L278.65,477.76 L281.15,477.56 L282.05,477.19 L282.45,476.77 L282.75,476.15 L282.95,475.45 L283.15,474.35 L283.45,472.14 L283.55,471.68 L283.65,471.64 L283.75,472.02 L284.05,473.98 L284.15,474.49 L284.35,475.15 L284.55,475.43 L284.75,475.41 L284.95,475.12 L285.15,474.48 L285.25,473.99 L285.35,473.35 L285.45,472.52 L285.55,471.48 L285.85,467.62 L285.95,466.83 L286.00,466.70 L286.05,466.78 L286.15,467.47 L286.45,470.94 L286.55,471.80 L286.65,472.42 L286.75,472.81 L286.85,472.97 L286.95,472.93 L287.05,472.70 L287.25,471.77 L287.35,471.28 L287.45,471.00 L287.55,471.11 L287.65,471.60 L287.95,473.79 L288.05,474.36 L288.25,475.14 L288.45,475.51 L288.65,475.56 L288.85,475.27 L289.05,474.63 L289.25,473.83 L289.35,473.61 L289.45,473.66 L289.55,473.99 L289.85,475.49 L290.05,476.23 L290.35,476.89 L290.85,477.39 L291.95,477.75 L295.05,477.93 L296.85,477.75 L297.45,477.45 L297.85,476.92 L298.05,476.41 L298.25,475.60 L298.55,473.97 L298.65,473.64 L298.75,473.64 L298.85,473.97 L299.15,475.61 L299.35,476.42 L299.65,477.12 L300.05,477.56 L300.95,477.90 L303.25,478.02 L304.15,477.84 L304.55,477.51 L304.95,477.01 L305.15,477.10 L305.65,477.73 L306.35,478.03 L307.85,478.04 L308.45,477.79 L308.95,477.31 L309.25,477.49 L309.75,477.94 L310.75,478.13 L311.85,478.01 L312.35,477.69 L312.75,477.01 L313.00,476.70 L313.25,477.02 L313.65,477.71 L314.15,478.06 L315.65,478.26 L317.05,478.16 L317.55,477.88 L318.00,477.50 L318.85,478.15 L320.15,478.30 L321.15,478.12 L321.55,477.80 L321.95,477.31 L322.15,477.40 L322.65,478.03 L323.35,478.32 L326.65,478.46 L328.05,478.31 L328.55,477.96 L328.95,477.51 L329.15,477.59 L329.65,478.17 L330.45,478.46 L337.25,478.69 L348.25,478.87" stroke="#ff0000"></path>
<path d="M70.35,479.20 L159.85,479.10 L164.55,478.87 L166.15,478.48 L166.95,477.96 L167.45,477.27 L167.75,476.53 L167.95,475.80 L168.15,474.72 L168.25,474.00 L168.35,473.10 L168.45,471.98 L168.55,470.56 L168.65,468.77 L168.75,466.51 L168.85,463.72 L168.95,460.40 L169.05,456.79 L169.15,453.51 L169.25,451.48 L169.30,451.20 L169.35,451.48 L169.45,453.51 L169.55,456.79 L169.65,460.40 L169.75,463.71 L169.85,466.51 L169.95,468.77 L170.05,470.56 L170.15,471.98 L170.25,473.10 L170.35,473.99 L170.45,474.72 L170.65,475.79 L170.85,476.53 L171.15,477.26 L171.65,477.95 L172.45,478.47 L174.05,478.85 L178.75,479.05 L186.85,478.91 L189.65,478.57 L190.95,478.07 L191.65,477.48 L192.15,476.71 L192.45,475.97 L192.75,474.83 L192.95,473.70 L193.05,472.97 L193.15,472.10 L193.25,471.03 L193.35,469.72 L193.45,468.10 L193.55,466.06 L193.65,463.50 L193.75,460.26 L193.85,456.18 L193.95,451.13 L194.05,445.13 L194.15,438.62 L194.25,432.68 L194.35,429.00 L194.40,428.50 L194.45,429.00 L194.55,432.66 L194.65,438.58 L194.75,445.08 L194.85,451.06 L194.95,456.10 L195.05,460.17 L195.15,463.39 L195.25,465.94 L195.35,467.95 L195.45,469.56 L195.55,470.85 L195.65,471.89 L195.75,472.75 L195.85,473.45 L196.05,474.52 L196.25,475.27 L196.55,476.01 L196.95,476.49 L197.35,476.53 L197.65,476.21 L197.85,475.74 L198.05,474.92 L198.15,474.32 L198.25,473.54 L198.35,472.55 L198.45,471.30 L198.55,469.81 L198.65,468.19 L198.75,466.72 L198.85,465.81 L198.90,465.70 L198.95,465.84 L199.05,466.80 L199.15,468.33 L199.25,470.00 L199.35,471.55 L199.45,472.85 L199.55,473.90 L199.65,474.74 L199.75,475.41 L199.95,476.36 L200.25,477.23 L200.65,477.85 L201.35,478.36 L202.85,478.75 L206.95,478.94 L211.65,478.78 L213.45,478.42 L214.35,477.92 L214.85,477.33 L215.15,476.73 L215.45,475.76 L215.65,474.74 L215.75,474.06 L215.85,473.20 L215.95,472.13 L216.05,470.78 L216.15,469.10 L216.25,467.02 L216.35,464.55 L216.45,461.87 L216.55,459.39 L216.65,457.79 L216.70,457.50 L216.75,457.60 L216.85,458.82 L216.95,460.90 L217.05,463.15 L217.15,465.12 L217.25,466.64 L217.35,467.67 L217.45,468.21 L217.55,468.30 L217.65,467.94 L217.75,467.12 L217.85,465.82 L217.95,464.10 L218.05,462.11 L218.15,460.27 L218.25,459.18 L218.30,459.10 L218.35,459.36 L218.45,460.81 L218.55,463.04 L218.65,465.44 L218.75,467.64 L218.85,469.49 L218.95,470.96 L219.05,472.12 L219.15,473.01 L219.25,473.69 L219.35,474.20 L219.45,474.56 L219.55,474.78 L219.75,474.88 L219.95,474.51 L220.15,473.92 L220.25,473.78 L220.35,473.89 L220.45,474.26 L220.75,475.84 L220.95,476.62 L221.25,477.31 L221.65,477.74 L222.35,477.95 L222.95,477.77 L223.35,477.40 L223.65,476.87 L223.85,476.28 L224.05,475.38 L224.15,474.75 L224.25,473.96 L224.35,472.95 L224.45,471.67 L224.55,470.09 L224.65,468.21 L224.75,466.16 L224.85,464.30 L224.95,463.15 L225.00,463.00 L225.05,463.16 L225.15,464.32 L225.25,466.19 L225.35,468.25 L225.45,470.14 L225.55,471.74 L225.65,473.02 L225.75,474.05 L225.85,474.86 L225.95,475.50 L226.15,476.43 L226.45,477.27 L226.85,477.89 L227.55,478.40 L228.95,478.75 L232.85,478.90 L237.15,478.68 L239.15,478.27 L240.25,477.73 L240.95,477.08 L241.45,476.31 L241.85,475.35 L242.15,474.29 L242.35,473.34 L242.55,472.11 L242.75,470.51 L242.85,469.52 L242.95,468.39 L243.05,467.10 L243.15,465.61 L243.25,463.93 L243.35,462.03 L243.45,459.94 L243.75,453.11 L243.85,451.12 L243.95,449.62 L244.05,448.80 L244.10,448.70 L244.15,448.81 L244.25,449.62 L244.35,451.12 L244.45,453.11 L244.75,459.94 L244.85,462.03 L244.95,463.93 L245.05,465.61 L245.15,467.10 L245.30,468.98 L245.45,470.51 L245.65,472.11 L245.85,473.34 L246.15,474.68 L246.45,475.63 L246.85,476.49 L247.45,477.30 L248.35,477.96 L249.75,478.42 L251.05,478.47 L251.55,478.25 L251.85,477.88 L252.25,476.96 L252.40,476.80 L252.55,476.98 L252.95,477.96 L253.35,478.47 L254.15,478.79 L257.45,479.01 L263.05,478.94 L264.45,478.66 L265.05,478.27 L265.45,477.65 L265.65,477.09 L265.85,476.20 L265.95,475.57 L266.05,474.79 L266.35,471.95 L266.45,471.38 L266.50,471.30 L266.55,471.37 L266.65,471.93 L266.95,474.75 L267.05,475.52 L267.15,476.14 L267.35,477.01 L267.65,477.73 L268.05,478.16 L268.55,478.26 L268.95,478.02 L269.25,477.49 L269.45,476.84 L269.75,475.50 L269.85,475.23 L269.95,475.24 L270.05,475.53 L270.35,476.93 L270.55,477.63 L270.85,478.23 L271.35,478.67 L272.55,478.98 L278.55,479.13 L283.75,479.02 L284.75,478.75 L285.15,478.38 L285.45,477.78 L285.85,476.35 L286.00,476.10 L286.15,476.35 L286.55,477.78 L286.85,478.38 L287.35,478.80 L288.65,479.07 L302.05,479.18 L348.25,479.20" stroke="#0000ff"></path>
</g>
<g fill="none" stroke="#000" stroke-width="1.7">
<rect x="69.45" y="6.6" width="279.75" height="226.90"></rect>
<rect x="69.45" y="252.3" width="279.75" height="226.90"></rect>
<path d="M69.45,120.05h4.5M349.20,120.05h-4.5M139.39,233.50v-4.5M139.39,6.60v4.5M209.32,233.50v-4.5M209.32,6.60v4.5M279.26,233.50v-4.5M279.26,6.60v4.5M69.45,450.84h4.5M349.20,450.84h-4.5M69.45,422.47h4.5M349.20,422.47h-4.5M69.45,394.11h4.5M349.20,394.11h-4.5M69.45,365.75h4.5M349.20,365.75h-4.5M69.45,337.39h4.5M349.20,337.39h-4.5M69.45,309.02h4.5M349.20,309.02h-4.5M69.45,280.66h4.5M349.20,280.66h-4.5M139.39,479.20v-4.5M139.39,252.30v4.5M209.32,479.20v-4.5M209.32,252.30v4.5M279.26,479.20v-4.5M279.26,252.30v4.5" stroke-width="1.5"></path>
</g>
<text x="59.1" y="12.20" text-anchor="end" letter-spacing="0">40</text>
<text x="59.1" y="125.65" text-anchor="end" letter-spacing="0">20</text>
<text x="59.1" y="257.90" text-anchor="end" letter-spacing="0.5"><tspan class="o">1</tspan>60</text><use href="#one" transform="translate(30.90,257.90) scale(0.007813,-0.007813)"></use>
<text x="59.1" y="314.62" text-anchor="end" letter-spacing="0.5"><tspan class="o">1</tspan>20</text><use href="#one" transform="translate(30.90,314.62) scale(0.007813,-0.007813)"></use>
<text x="59.1" y="371.35" text-anchor="end" letter-spacing="0">80</text>
<text x="59.1" y="428.07" text-anchor="end" letter-spacing="0">40</text>
<text x="59.1" y="484.80" text-anchor="end" letter-spacing="0">0</text>
<text x="139.69" y="501.5" text-anchor="middle"><tspan class="o">1</tspan>0</text><use href="#one" transform="translate(130.78,501.50) scale(0.007813,-0.007813)"></use>
<text x="279.56" y="501.5" text-anchor="middle"><tspan class="o">1</tspan><tspan class="o">1</tspan></text><use href="#one" transform="translate(279.56,501.50) scale(0.007813,-0.007813)"></use><use href="#one" transform="translate(270.65,501.50) scale(0.007813,-0.007813)"></use>
<text x="137.25" y="526.8" style="font-size:16.6px" letter-spacing="0.03">Photon energy (eV)</text>
<g transform="translate(17.6,336.6) rotate(-90)"><text x="-0.1" y="0" letter-spacing="0.31">Absorption Cross Section (<tspan class="o">1</tspan>0</text><use href="#one" transform="translate(198.27,0.00) scale(0.007813,-0.007813)"></use><text x="216.3" y="-7.9" style="font-size:12px" letter-spacing="0.6">-<tspan class="o">1</tspan>8</text><use href="#one" transform="translate(220.91,-7.90) scale(0.005859,-0.005859)"></use><text x="240.5" y="0">cm</text><text x="261.2" y="-7.9" style="font-size:12.5px">2</text><text x="270.7" y="0">)</text></g>
<text x="83.4" y="40.5" letter-spacing="0.3">4A</text>
<text x="103.9" y="40.5">’</text><text x="107.3" y="40.5">’</text>
<text x="83.4" y="271.7" letter-spacing="0.3">5A</text>
<text x="103.7" y="271.7">’</text>
<text x="164" y="23.60" letter-spacing="0.2">J<tspan font-size="12" dy="4.5">i</tspan><tspan dy="-4.5"><tspan class="o">=</tspan><tspan class="o">1</tspan>0</tspan></text><use href="#one" transform="translate(184.63,23.60) scale(0.007813,-0.007813)"></use><use href="#eq" transform="translate(175.08,23.60) scale(0.007813,-0.007813)"></use>
<path d="M214.40,19.30H228.10M224.20,15.60L228.40,19.30L224.20,23.00" stroke="#000" stroke-width="1.2" fill="none" stroke-linejoin="miter"></path>
<text x="234.6" y="23.60" letter-spacing="0.5">J<tspan font-size="12" dy="4.5">f</tspan><tspan dy="-4.5"><tspan class="o">=</tspan><tspan class="o">1</tspan><tspan class="o">1</tspan></tspan></text><use href="#one" transform="translate(266.19,23.60) scale(0.007813,-0.007813)"></use><use href="#one" transform="translate(256.79,23.60) scale(0.007813,-0.007813)"></use><use href="#eq" transform="translate(246.94,23.60) scale(0.007813,-0.007813)"></use>
<text x="173.30" y="40.10" letter-spacing="0.2">J<tspan font-size="12" dy="4.5">i</tspan><tspan dy="-4.5"><tspan class="o">=</tspan> <tspan class="o">1</tspan></tspan></text><use href="#one" transform="translate(198.58,40.10) scale(0.007813,-0.007813)"></use><use href="#eq" transform="translate(184.38,40.10) scale(0.007813,-0.007813)"></use>
<path d="M218.80,36.10H232.50M228.60,32.40L232.80,36.10L228.60,39.80" stroke="#000" stroke-width="1.2" fill="none" stroke-linejoin="miter"></path>
<text x="239.0" y="40.10" letter-spacing="0.3">J<tspan font-size="12" dy="4.5">f</tspan><tspan dy="-4.5"><tspan class="o">=</tspan> 2</tspan></text><use href="#eq" transform="translate(250.95,40.10) scale(0.007813,-0.007813)"></use>
<path d="M284.2,19.60H329.6" stroke="#ff0000" stroke-width="1"></path>
<path d="M284.2,36.50H329.6" stroke="#0000ff" stroke-width="1"></path>
<text x="164" y="269.30" letter-spacing="0.2">J<tspan font-size="12" dy="4.5">i</tspan><tspan dy="-4.5"><tspan class="o">=</tspan><tspan class="o">1</tspan>0</tspan></text><use href="#one" transform="translate(184.63,269.30) scale(0.007813,-0.007813)"></use><use href="#eq" transform="translate(175.08,269.30) scale(0.007813,-0.007813)"></use>
<path d="M214.40,265.00H228.10M224.20,261.30L228.40,265.00L224.20,268.70" stroke="#000" stroke-width="1.2" fill="none" stroke-linejoin="miter"></path>
<text x="234.6" y="269.30" letter-spacing="0.5">J<tspan font-size="12" dy="4.5">f</tspan><tspan dy="-4.5"><tspan class="o">=</tspan><tspan class="o">1</tspan><tspan class="o">1</tspan></tspan></text><use href="#one" transform="translate(266.19,269.30) scale(0.007813,-0.007813)"></use><use href="#one" transform="translate(256.79,269.30) scale(0.007813,-0.007813)"></use><use href="#eq" transform="translate(246.94,269.30) scale(0.007813,-0.007813)"></use>
<text x="178.00" y="285.80" letter-spacing="0.2">J<tspan font-size="12" dy="4.5">i</tspan><tspan dy="-4.5"><tspan class="o">=</tspan> <tspan class="o">1</tspan></tspan></text><use href="#one" transform="translate(203.28,285.80) scale(0.007813,-0.007813)"></use><use href="#eq" transform="translate(189.08,285.80) scale(0.007813,-0.007813)"></use>
<path d="M218.80,281.80H232.50M228.60,278.10L232.80,281.80L228.60,285.50" stroke="#000" stroke-width="1.2" fill="none" stroke-linejoin="miter"></path>
<text x="239.0" y="285.80" letter-spacing="0.3">J<tspan font-size="12" dy="4.5">f</tspan><tspan dy="-4.5"><tspan class="o">=</tspan> 2</tspan></text><use href="#eq" transform="translate(250.95,285.80) scale(0.007813,-0.007813)"></use>
<path d="M284.2,265.30H329.6" stroke="#ff0000" stroke-width="1"></path>
<path d="M284.2,282.20H329.6" stroke="#0000ff" stroke-width="1"></path>
</svg>
</body></html>
